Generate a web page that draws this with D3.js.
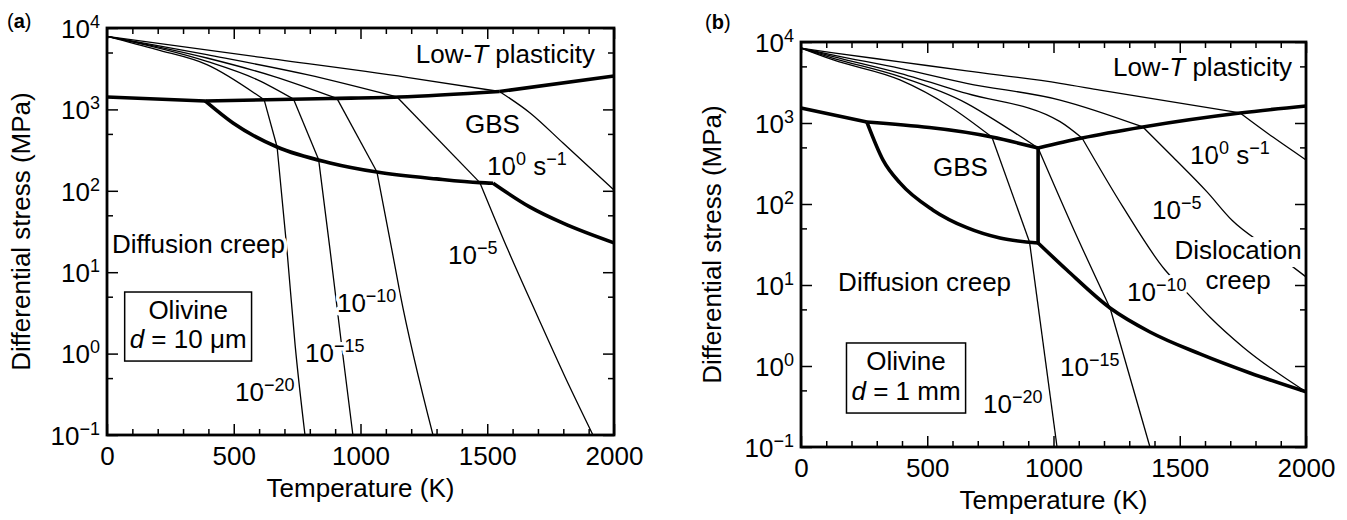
<!DOCTYPE html>
<html lang="en">
<head>
<meta charset="UTF-8">
<title>Deformation mechanism maps for olivine</title>
<script src="https://d3js.org/d3.v7.min.js"></script>
<style>
  body { margin: 0; background: #fff; }
  svg { font-family: "Liberation Sans", Arial, Helvetica, sans-serif; }
  .contour { fill: none; stroke: #000; stroke-width: 1.3px; }
  .boundary { fill: none; stroke: #000; stroke-width: 3.6px; stroke-linejoin: round; }
  .frame { fill: none; stroke: #000; stroke-width: 2.8px; }
  .axis { font-family: "Liberation Sans", Arial, Helvetica, sans-serif; }
  .axis line { stroke: #000; stroke-width: 1.5px; }
  .axis text { font-size: 26px; fill: #000; }
  .lbl { font-size: 26px; fill: #000; stroke: #fff; stroke-width: 7px; paint-order: stroke; stroke-linejoin: round; white-space: pre; }
  .title { font-size: 26px; fill: #000; }
</style>
</head>
<body>
<svg id="chart" width="1347" height="520"></svg>
<script>
// ---- axes ----
const tempMajor = [0, 500, 1000, 1500, 2000];
const tempMinor = [100, 200, 300, 400, 600, 700, 800, 900, 1100, 1200, 1300, 1400, 1600, 1700, 1800, 1900];
const stressMajor = [0.1, 1, 10, 100, 1000, 10000];
const stressExp = ["\u22121", "0", "1", "2", "3", "4"];
const stressMinor = [0.5, 5, 50, 500, 5000];

// ---- panel (a): d = 10 um ----  points are [T (K), stress (MPa)]
const aRate0 = [
  [[0, 7900], [592, 4420], [1183, 2480], [1548, 1660]],
  [[1548, 1660], [1669, 904], [1799, 386], [2000, 102]]
];
const aRate5 = [
  [[0, 7900], [394, 4700], [789, 2670], [1144, 1420]],
  [[1144, 1420], [1471, 126]],
  [[1471, 126], [1582, 18.7], [1696, 2.98], [1807, 0.516], [1917, 0.1]]
];
const aRate10 = [
  [[0, 7900], [394, 4280], [657, 2550], [907, 1365]],
  [[907, 1365], [1065, 170]],
  [[1065, 170], [1124, 18.7], [1156, 5.5], [1286, 0.1]]
];
const aRate15 = [
  [[0, 7900], [394, 3890], [592, 2320], [736, 1335]],
  [[736, 1335], [835, 240]],
  [[835, 240], [880, 18.7], [923, 1.47], [970, 0.1]]
];
const aRate20 = [
  [[0, 7900], [197, 5420], [394, 3550], [620, 1310]],
  [[620, 1310], [671, 345]],
  [[671, 345], [710, 18.7], [742, 1.28], [781, 0.1]]
];
const aLowT = [
  [[0, 1420], [387, 1270]],
  [[387, 1270], [880, 1360], [1150, 1420], [1548, 1660]],
  [[1548, 1660], [2000, 2570]]
];
const aGbs = [
  [[387, 1270], [497, 680], [671, 345], [880, 220], [1065, 170], [1300, 140], [1471, 126], [1523, 124]],
  [[1523, 124], [1669, 63], [1799, 40], [2000, 22.9]]
];

// ---- panel (b): d = 1 mm ----
const bRate0 = [
  [[0, 8400], [128, 7350], [392, 5690], [656, 4400], [1026, 3090], [1184, 2550], [1739, 1330]],
  [[1739, 1330], [1869, 670], [2000, 350]]
];
const bRate5 = [
  [[0, 8400], [128, 6900], [392, 4730], [656, 3090], [1026, 1920], [1354, 893]],
  [[1354, 893], [1473, 380], [1608, 141], [1707, 63], [1850, 28.6], [2000, 12.6]]
];
const bRate10 = [
  [[0, 8400], [128, 6600], [392, 4100], [656, 2320], [1026, 1040], [1113, 653]],
  [[1113, 653], [1275, 92], [1442, 15.3], [1529, 8], [1620, 4.0], [1750, 1.72], [2000, 0.48]]
];
const bRate15 = [
  [[0, 8400], [128, 6300], [392, 3730], [656, 1750], [788, 990], [939, 491]],
  [[939, 491], [1081, 47.8], [1224, 5.2]],
  [[1224, 5.2], [1382, 0.1]]
];
const bRate20 = [
  [[0, 8400], [128, 6000], [392, 3400], [590, 1590], [756, 671]],
  [[756, 671], [905, 34]],
  [[905, 34], [1014, 0.1]]
];
const bLowT = [
  [[0, 1530], [261, 1028]],
  [[261, 1028], [756, 671], [939, 491]],
  [[939, 491], [1113, 653], [1354, 893], [1739, 1327], [2000, 1622]]
];
const bGbs = [
  [[261, 1028], [325, 349], [392, 182], [523, 84], [657, 51], [788, 38], [939, 33]],
  [[939, 33], [939, 491]]
];
const bDiff = [
  [[939, 33], [1053, 15.3], [1224, 5.2], [1382, 2.63], [1580, 1.41], [1778, 0.82], [2000, 0.48]]
];

// ---- annotations: [T, stress] anchors ----
const sup = t => ({ t, sup: true });
const aLabels = [
  { T: 1925, s: 3715, anchor: "end", parts: [{ t: "Low-" }, { t: "T", it: true }, { t: " plasticity" }] },
  { T: 1412, s: 513, parts: [{ t: "GBS" }] },
  { T: 1499, s: 156, parts: [{ t: "10" }, sup("0"), { t: " s" }, sup("\u22121")] },
  { T: 1345, s: 12.6, parts: [{ t: "10" }, sup("\u22125")] },
  { T: 907, s: 3.24, parts: [{ t: "10" }, sup("\u221210")] },
  { T: 781, s: 0.79, parts: [{ t: "10" }, sup("\u221215")] },
  { T: 505, s: 0.262, parts: [{ t: "10" }, sup("\u221220")] },
  { T: 20, s: 17.2, parts: [{ t: "Diffusion creep" }] }
];
const bLabels = [
  { T: 1945, s: 3800, anchor: "end", parts: [{ t: "Low-" }, { t: "T", it: true }, { t: " plasticity" }] },
  { T: 523, s: 222, parts: [{ t: "GBS" }] },
  { T: 1541, s: 312, parts: [{ t: "10" }, sup("0"), { t: " s" }, sup("\u22121")] },
  { T: 1390, s: 65, parts: [{ t: "10" }, sup("\u22125")] },
  { T: 1731, s: 20.9, anchor: "middle", bg: true, parts: [{ t: "Dislocation" }] },
  { T: 1731, s: 8.9, anchor: "middle", bg: true, parts: [{ t: "creep" }] },
  { T: 1291, s: 6.34, parts: [{ t: "10" }, sup("\u221210")] },
  { T: 1026, s: 0.753, parts: [{ t: "10" }, sup("\u221215")] },
  { T: 721, s: 0.263, parts: [{ t: "10" }, sup("\u221220")] },
  { T: 147, s: 8.4, parts: [{ t: "Diffusion creep" }] }
];

const panels = [
  {
    tag: "a", left: 107, right: 614, top: 28, bottom: 435, ytitleX: 30, tagX: 7, tagY: 28,
    contours: [aRate0, aRate5, aRate10, aRate15, aRate20],
    boundaries: [aLowT, aGbs],
    labels: aLabels,
    box: { T: 320, s1: 2.66, s2: 1.17, size: " = 10 \u03bcm" }
  },
  {
    tag: "b", left: 801, right: 1306, top: 42, bottom: 447, ytitleX: 721, tagX: 705, tagY: 29,
    contours: [bRate0, bRate5, bRate10, bRate15, bRate20],
    boundaries: [bLowT, bGbs, bDiff],
    labels: bLabels,
    box: { T: 416, s1: 0.893, s2: 0.38, size: " = 1 mm" }
  }
];

const svg = d3.select("#chart");

function addText(g, px, py, parts, anchor, cls) {
  const t = g.append("text").attr("class", cls)
    .attr("x", px).attr("y", py)
    .attr("text-anchor", anchor || "start");
  let raised = false;
  parts.forEach(p => {
    const ts = t.append("tspan").text(p.t);
    if (p.sup) {
      ts.attr("font-size", "18px");
      if (!raised) { ts.attr("dy", -10); raised = true; }
    } else if (raised) {
      ts.attr("dy", 10); raised = false;
    }
    if (p.it) ts.attr("font-style", "italic");
  });
  return t;
}

function drawPanel(p) {
  const x = d3.scaleLinear().domain([0, 2000]).range([p.left, p.right]);
  const y = d3.scaleLog().domain([0.1, 10000]).range([p.bottom, p.top]);
  const g = svg.append("g");

  const line = d3.line().x(d => x(d[0])).y(d => y(d[1]));
  const path = seg => line.curve(seg.length > 2 ? d3.curveMonotoneX : d3.curveLinear)(seg);

  p.contours.forEach(c => c.forEach(seg =>
    g.append("path").attr("class", "contour").attr("d", path(seg))));
  p.boundaries.forEach(b => b.forEach(seg =>
    g.append("path").attr("class", "boundary").attr("d", path(seg))));

  // labels (white halo breaks the lines under them)
  p.labels.forEach(l => {
    const t = addText(g, x(l.T), y(l.s), l.parts, l.anchor, "lbl");
    if (l.bg) {
      const bb = t.node().getBBox();
      g.insert("rect", () => t.node())
        .attr("x", bb.x - 2).attr("y", bb.y + 2)
        .attr("width", bb.width + 4).attr("height", bb.height)
        .attr("fill", "#fff");
    }
  });

  // material box
  const box = g.append("g");
  box.append("text").attr("class", "title").attr("text-anchor", "middle")
    .attr("x", x(p.box.T)).attr("y", y(p.box.s1)).text("Olivine");
  const t2 = box.append("text").attr("class", "title").attr("text-anchor", "middle")
    .attr("x", x(p.box.T)).attr("y", y(p.box.s2)).style("white-space", "pre");
  t2.append("tspan").attr("font-style", "italic").text("d");
  t2.append("tspan").text(p.box.size);
  const bb = box.node().getBBox();
  box.insert("rect", ":first-child")
    .attr("x", bb.x - 5).attr("y", bb.y - 3)
    .attr("width", bb.width + 10).attr("height", bb.height + 10)
    .attr("fill", "#fff").attr("stroke", "#000").attr("stroke-width", 1.5);

  // ticks, inward on all four sides
  const h = p.bottom - p.top, w = p.right - p.left;
  g.append("g").attr("class", "axis").attr("transform", `translate(0,${p.bottom})`)
    .call(d3.axisBottom(x).tickValues(tempMajor).tickSize(-11).tickPadding(12).tickFormat(d3.format("d")));
  g.append("g").attr("class", "axis").attr("transform", `translate(0,${p.bottom})`)
    .call(d3.axisBottom(x).tickValues(tempMinor).tickSize(-6).tickFormat(""));
  g.append("g").attr("class", "axis").attr("transform", `translate(0,${p.top})`)
    .call(d3.axisTop(x).tickValues(tempMajor).tickSize(-11).tickFormat(""));
  g.append("g").attr("class", "axis").attr("transform", `translate(0,${p.top})`)
    .call(d3.axisTop(x).tickValues(tempMinor).tickSize(-6).tickFormat(""));

  const gy = g.append("g").attr("class", "axis").attr("transform", `translate(${p.left},0)`)
    .call(d3.axisLeft(y).tickValues(stressMajor).tickSize(-11).tickPadding(7));
  g.append("g").attr("class", "axis").attr("transform", `translate(${p.left},0)`)
    .call(d3.axisLeft(y).tickValues(stressMinor).tickSize(-6).tickFormat(""));
  g.append("g").attr("class", "axis").attr("transform", `translate(${p.right},0)`)
    .call(d3.axisRight(y).tickValues(stressMajor).tickSize(-11).tickFormat(""));
  g.append("g").attr("class", "axis").attr("transform", `translate(${p.right},0)`)
    .call(d3.axisRight(y).tickValues(stressMinor).tickSize(-6).tickFormat(""));
  g.selectAll(".axis .domain").remove();

  gy.selectAll(".tick text").attr("dy", "0.36em").each(function (d) {
    const t = d3.select(this).text(null);
    t.append("tspan").text("10");
    t.append("tspan").attr("dy", -10).attr("font-size", "18px").text(stressExp[stressMajor.indexOf(d)]);
  });

  g.append("rect").attr("class", "frame")
    .attr("x", p.left).attr("y", p.top).attr("width", w).attr("height", h);

  // axis titles
  g.append("text").attr("class", "title").attr("text-anchor", "middle")
    .attr("x", (p.left + p.right) / 2).attr("y", p.bottom + 62)
    .text("Temperature (K)");
  g.append("text").attr("class", "title").attr("text-anchor", "middle")
    .attr("transform", `translate(${p.ytitleX},${(p.top + p.bottom) / 2}) rotate(-90)`)
    .text("Differential stress (MPa)");

  // panel tag
  const tag = g.append("text").attr("x", p.tagX).attr("y", p.tagY).attr("font-size", 20);
  tag.append("tspan").text("(");
  tag.append("tspan").attr("font-weight", "bold").text(p.tag);
  tag.append("tspan").text(")");
}

panels.forEach(drawPanel);
</script>
</body>
</html>
